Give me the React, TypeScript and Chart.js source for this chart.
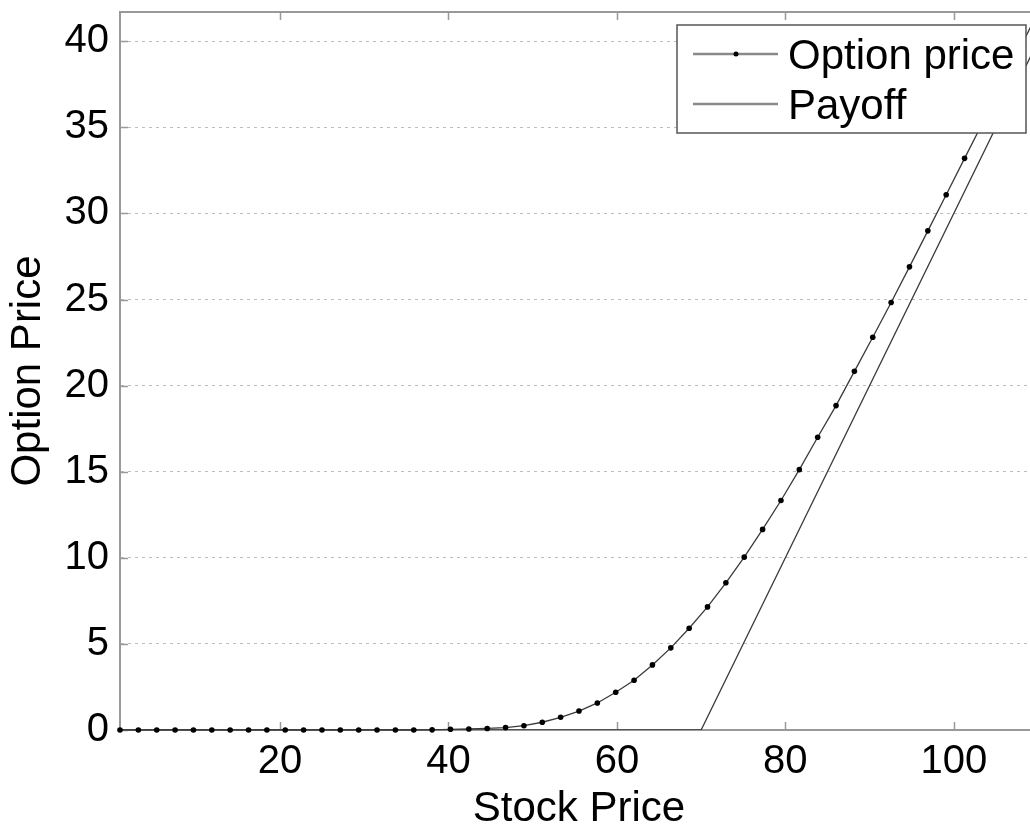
import React, { useEffect, useRef } from "react";
import { Chart, registerables } from "chart.js";

Chart.register(...registerables);

// Stock price sample points (x) for the option price curve
const stockPrices = [
  1, 3.18, 5.36, 7.54, 9.72, 11.9, 14.08, 16.26, 18.44, 20.62,
  22.8, 24.98, 27.16, 29.34, 31.52, 33.7, 35.88, 38.06, 40.24, 42.42,
  44.6, 46.78, 48.96, 51.14, 53.32, 55.5, 57.68, 59.86, 62.04, 64.22,
  66.4, 68.58, 70.76, 72.94, 75.12, 77.3, 79.48, 81.66, 83.84, 86.02,
  88.2, 90.38, 92.56, 94.74, 96.92, 99.1, 101.28, 103.46, 105.64, 107.82, 110,
];

// Option price values
const optionPrices = [
  0, 0, 0, 0, 0, 0, 0, 0, 0, 0,
  0, 0, 0, 0, 0, 0, 0, 0.01, 0.04, 0.06,
  0.09, 0.14, 0.25, 0.45, 0.74, 1.1, 1.57, 2.19, 2.89, 3.78,
  4.77, 5.91, 7.15, 8.55, 10.04, 11.65, 13.33, 15.12, 17.0, 18.84,
  20.83, 22.81, 24.83, 26.9, 28.99, 31.09, 33.2, 35.3, 37.4, 39.55, 41.7,
];

// Payoff line
const payoffStock = [1, 70, 110];
const payoffValues = [0, 0, 40];

const xTickValues = [20, 40, 60, 80, 100];
const yTickValues = [0, 5, 10, 15, 20, 25, 30, 35, 40];

const legendLabels = ["Option price", "Payoff"];

const FONT = "'Liberation Sans', Arial, Helvetica, sans-serif";

export default function App() {
  const canvasRef = useRef<HTMLCanvasElement | null>(null);

  useEffect(() => {
    const canvas = canvasRef.current;
    if (!canvas) return;

    const framePlugin = {
      id: "frameAndTicks",
      beforeDatasetsDraw(chart: any) {
        const { ctx, chartArea, scales } = chart;
        ctx.save();
        ctx.strokeStyle = "#999999";
        ctx.lineWidth = 2;
        ctx.beginPath();
        ctx.moveTo(chartArea.left, chartArea.top);
        ctx.lineTo(chartArea.right, chartArea.top);
        ctx.stroke();
        ctx.lineWidth = 1.5;
        xTickValues.forEach((v) => {
          const px = Math.round(scales.x.getPixelForValue(v)) + 0.5;
          ctx.beginPath();
          ctx.moveTo(px, chartArea.bottom);
          ctx.lineTo(px, chartArea.bottom - 8);
          ctx.moveTo(px, chartArea.top);
          ctx.lineTo(px, chartArea.top + 8);
          ctx.stroke();
        });
        yTickValues.forEach((v) => {
          const py = Math.round(scales.y.getPixelForValue(v)) + 0.5;
          ctx.beginPath();
          ctx.moveTo(chartArea.left, py);
          ctx.lineTo(chartArea.left + 8, py);
          ctx.stroke();
        });
        ctx.restore();
      },
      afterDraw(chart: any) {
        const { ctx } = chart;
        ctx.save();
        const bx = 677, by = 25, bw = 349, bh = 108;
        ctx.fillStyle = "#ffffff";
        ctx.fillRect(bx, by, bw, bh);
        ctx.strokeStyle = "#555555";
        ctx.lineWidth = 1.5;
        ctx.strokeRect(bx, by, bw, bh);
        const rows = [54, 104];
        rows.forEach((ly, i) => {
          ctx.strokeStyle = "#8a8a8a";
          ctx.lineWidth = 2.5;
          ctx.beginPath();
          ctx.moveTo(693, ly);
          ctx.lineTo(778, ly);
          ctx.stroke();
          if (i === 0) {
            ctx.fillStyle = "#000000";
            ctx.beginPath();
            ctx.arc(736, ly, 2.5, 0, Math.PI * 2);
            ctx.fill();
          }
          ctx.fillStyle = "#000000";
          ctx.font = `42px ${FONT}`;
          ctx.textAlign = "left";
          ctx.textBaseline = "alphabetic";
          ctx.fillText(legendLabels[i], 788, ly + 15);
        });
        ctx.restore();
      },
    };

    const chart = new Chart(canvas, {
      type: "line",
      data: {
        datasets: [
          {
            label: legendLabels[0],
            data: stockPrices.map((x, i) => ({ x, y: optionPrices[i] })),
            borderColor: "#3a3a3a",
            borderWidth: 1.3,
            pointRadius: 2.8,
            pointBackgroundColor: "#000000",
            pointBorderColor: "#000000",
            pointBorderWidth: 0,
            tension: 0,
            clip: 4,
          },
          {
            label: legendLabels[1],
            data: payoffStock.map((x, i) => ({ x, y: payoffValues[i] })),
            borderColor: "#3a3a3a",
            borderWidth: 1.3,
            pointRadius: 0,
            tension: 0,
          },
        ],
      },
      options: {
        responsive: false,
        animation: false,
        events: [],
        layout: { autoPadding: false, padding: { top: 12, right: 0, left: 0, bottom: 0 } },
        plugins: {
          legend: { display: false },
          tooltip: { enabled: false },
        },
        scales: {
          x: {
            type: "linear",
            min: 1,
            max: 110,
            afterBuildTicks: (scale: any) => {
              scale.ticks = xTickValues.map((v) => ({ value: v }));
            },
            afterFit: (scale: any) => {
              scale.height = 98;
              scale.paddingLeft = 0;
              scale.paddingRight = 0;
            },
            grid: { display: false, drawTicks: false },
            border: { display: true, color: "#999999", width: 2 },
            ticks: {
              padding: 8,
              color: "#000000",
              font: { family: FONT, size: 40 },
              maxRotation: 0,
              autoSkip: false,
            },
            title: {
              display: true,
              text: "Stock Price",
              color: "#000000",
              font: { family: FONT, size: 42, lineHeight: 1 },
              padding: { top: 0, bottom: -2 },
            },
          },
          y: {
            type: "linear",
            min: 0,
            max: 41.7,
            afterBuildTicks: (scale: any) => {
              scale.ticks = yTickValues.map((v) => ({ value: v }));
            },
            afterFit: (scale: any) => {
              scale.width = 120;
              scale.paddingTop = 0;
              scale.paddingBottom = 0;
            },
            grid: {
              display: true,
              drawTicks: false,
              color: "#bdbdbd",
              lineWidth: 1,
            },
            border: { display: true, color: "#999999", width: 2, dash: [3, 4] },
            ticks: {
              padding: 11,
              color: "#000000",
              font: { family: FONT, size: 40 },
              autoSkip: false,
            },
            title: {
              display: true,
              text: "Option Price",
              color: "#000000",
              font: { family: FONT, size: 42, lineHeight: 1 },
              padding: { top: 7, bottom: 0 },
            },
          },
        },
      },
      plugins: [framePlugin],
    } as any);

    return () => {
      chart.destroy();
    };
  }, []);

  return (
    <div style={{ position: "fixed", left: 0, top: 0, width: 1038, height: 828, background: "#ffffff" }}>
      <canvas ref={canvasRef} width={1038} height={828} style={{ display: "block" }} />
    </div>
  );
}
